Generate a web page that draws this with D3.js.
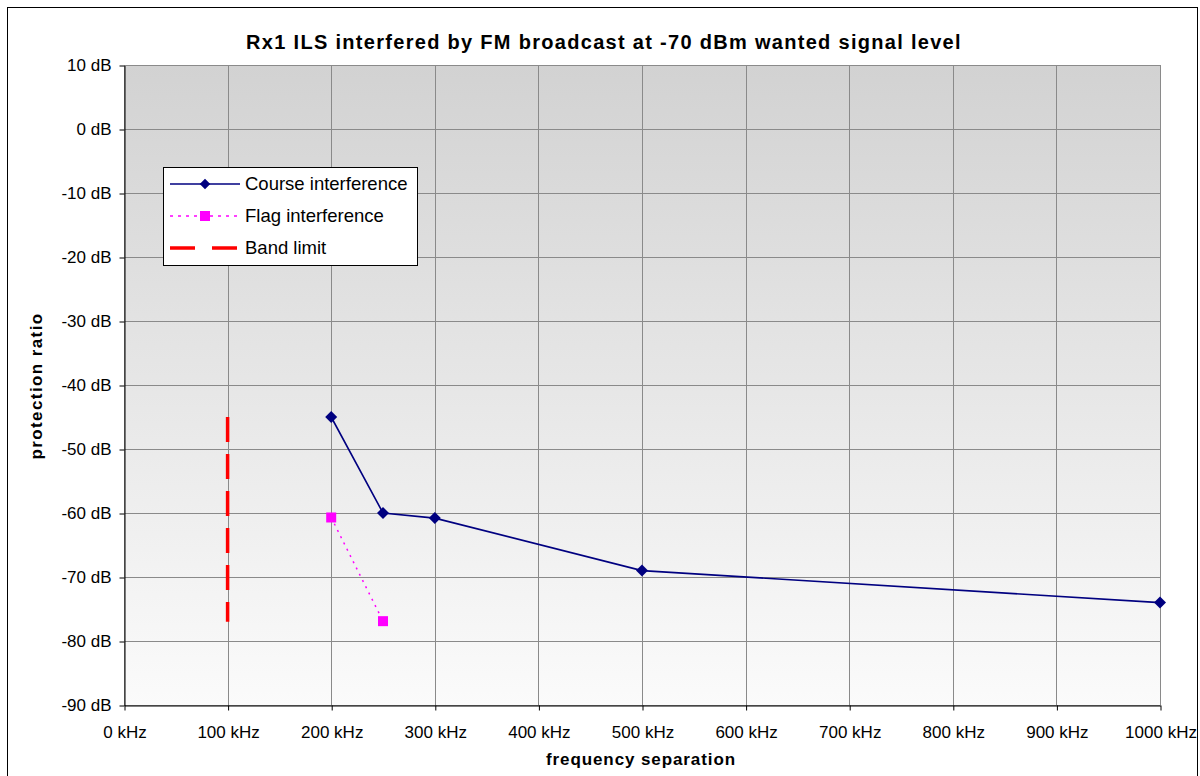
<!DOCTYPE html>
<html><head><meta charset="utf-8">
<script src="https://cdn.jsdelivr.net/npm/d3@7"></script>
<style>body{margin:0;background:#fff}svg{display:block;font-family:Arial,"Liberation Sans",sans-serif}</style>
</head><body><svg id="c" width="1200" height="776"></svg>
<script>
const title = "Rx1 ILS interfered by FM broadcast at -70 dBm wanted signal level";
const xTitle = "frequency separation";
const yTitle = "protection ratio";
const xTicks = [0,100,200,300,400,500,600,700,800,900,1000];
const yTicks = [10,0,-10,-20,-30,-40,-50,-60,-70,-80,-90];
const courseX = [200,250,300,500,1000];
const courseY = [-45,-60,-60.8,-69,-74];
const flagX = [200,250];
const flagY = [-60.7,-76.9];
const bandX = [100,100];
const bandY = [-45,-77];
const legendNames = ["Course interference","Flag interference","Band limit"];

const svg = d3.select("#c");
const L=124, R=1160, T=65, B=705;
const x = d3.scaleLinear().domain([0,1000]).range([L,R]);
const y = d3.scaleLinear().domain([-90,10]).range([B,T]);

svg.append("rect").attr("x",7.5).attr("y",7.5).attr("width",1190).attr("height",780).attr("fill","#fff").attr("stroke","#000").attr("stroke-width",1);

const defs = svg.append("defs");
const g = defs.append("linearGradient").attr("id","bg").attr("x1",0).attr("y1",0).attr("x2",0).attr("y2",1);
g.append("stop").attr("offset","0%").attr("stop-color","#d2d2d2");
g.append("stop").attr("offset","100%").attr("stop-color","#fbfbfb");
svg.append("rect").attr("x",L).attr("y",T).attr("width",R-L).attr("height",B-T).attr("fill","url(#bg)");

// gridlines
svg.append("g").selectAll("line").data(yTicks).join("line")
  .attr("x1",L).attr("x2",R).attr("y1",d=>Math.round(y(d))+0.5).attr("y2",d=>Math.round(y(d))+0.5)
  .attr("stroke","#8a8a8a").attr("stroke-width",1);
svg.append("g").selectAll("line").data(xTicks).join("line")
  .attr("y1",T).attr("y2",B).attr("x1",d=>Math.round(x(d))+0.5).attr("x2",d=>Math.round(x(d))+0.5)
  .attr("stroke","#8a8a8a").attr("stroke-width",1);

// axes
const xa = svg.append("g").attr("transform",`translate(0.5,${B+0.5})`)
  .call(d3.axisBottom(x).tickValues(xTicks).tickSize(5).tickPadding(15).tickFormat(d=>d+" kHz").tickSizeOuter(0));
const ya = svg.append("g").attr("transform",`translate(${L+0.5},0.5)`)
  .call(d3.axisLeft(y).tickValues(yTicks).tickSize(5).tickPadding(8).tickFormat(d=>d+" dB").tickSizeOuter(0));
[xa,ya].forEach(a=>{
  a.selectAll("path,line").attr("stroke","#000");
  a.selectAll("text").attr("font-size",17).attr("fill","#000").attr("font-family","Arial,'Liberation Sans',sans-serif");
});
xa.selectAll("text").attr("dy","0.71em");

// band limit
const line = d3.line().x(d=>x(d[0])).y(d=>y(d[1]));
svg.append("path").datum(bandX.map((v,i)=>[v,bandY[i]])).attr("d",line)
  .attr("fill","none").attr("stroke","#ff0000").attr("stroke-width",3.5).attr("stroke-dasharray","25,12");

// flag
const flag = flagX.map((v,i)=>[v,flagY[i]]);
svg.append("path").datum(flag).attr("d",line).attr("fill","none").attr("stroke","#ff00ff").attr("stroke-width",1.5).attr("stroke-dasharray","2,5");
svg.append("g").selectAll("rect").data(flag).join("rect")
  .attr("x",d=>x(d[0])-5).attr("y",d=>y(d[1])-5).attr("width",10).attr("height",10).attr("fill","#ff00ff");

// course
const course = courseX.map((v,i)=>[v,courseY[i]]);
svg.append("path").datum(course).attr("d",line).attr("fill","none").attr("stroke","#000080").attr("stroke-width",1.6);
svg.append("g").selectAll("path").data(course).join("path")
  .attr("transform",d=>`translate(${x(d[0])},${y(d[1])}) rotate(45)`)
  .attr("d",d3.symbol().type(d3.symbolSquare).size(72)).attr("fill","#000080");

// titles
svg.append("text").attr("x",604).attr("y",49).attr("text-anchor","middle").attr("font-size",20).attr("font-weight","bold").attr("letter-spacing","1.3").text(title);
svg.append("text").attr("x",641).attr("y",765).attr("text-anchor","middle").attr("font-size",17).attr("font-weight","bold").attr("letter-spacing","0.9").text(xTitle);
svg.append("text").attr("transform","translate(42,386) rotate(-90)").attr("text-anchor","middle").attr("font-size",17).attr("font-weight","bold").attr("letter-spacing","1.4").text(yTitle);

// legend
const lg = svg.append("g");
lg.append("rect").attr("x",163.5).attr("y",167.5).attr("width",254).attr("height",98).attr("fill","#fff").attr("stroke","#000").attr("stroke-width",1);
const ly = [184,216,248];
lg.append("line").attr("x1",170).attr("x2",240).attr("y1",ly[0]).attr("y2",ly[0]).attr("stroke","#000080").attr("stroke-width",1.6);
lg.append("path").attr("transform",`translate(205,${ly[0]}) rotate(45)`).attr("d",d3.symbol().type(d3.symbolSquare).size(56)).attr("fill","#000080");
lg.append("line").attr("x1",170).attr("x2",240).attr("y1",ly[1]).attr("y2",ly[1]).attr("stroke","#ff00ff").attr("stroke-width",1.5).attr("stroke-dasharray","3,5");
lg.append("rect").attr("x",200).attr("y",ly[1]-5).attr("width",10).attr("height",10).attr("fill","#ff00ff");
lg.append("line").attr("x1",170).attr("x2",240).attr("y1",ly[2]).attr("y2",ly[2]).attr("stroke","#ff0000").attr("stroke-width",3.5).attr("stroke-dasharray","25,17");
lg.selectAll("text.l").data(legendNames).join("text").attr("class","l")
  .attr("x",245).attr("y",(d,i)=>ly[i]+6).attr("font-size",18.5).text(d=>d);
</script></body></html>
